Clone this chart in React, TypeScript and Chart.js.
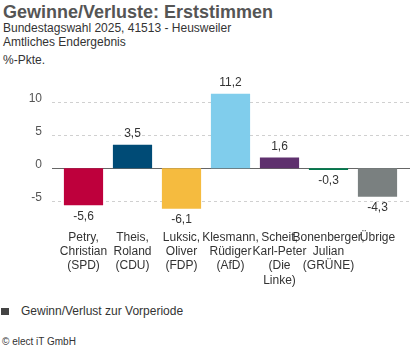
import React, { useEffect, useRef } from "react";
import { Chart, registerables } from "chart.js";

Chart.register(...registerables);

const CATEGORIES: string[][] = [
  ["Petry,", "Christian", "(SPD)"],
  ["Theis,", "Roland", "(CDU)"],
  ["Luksic,", "Oliver", "(FDP)"],
  ["Klesmann,", "Rüdiger", "(AfD)"],
  ["Scheit,", "Karl-Peter", "(Die", "Linke)"],
  ["Bonenberger,", "Julian", "(GRÜNE)"],
  ["Übrige"],
];
const VALUES: number[] = [-5.6, 3.5, -6.1, 11.2, 1.6, -0.3, -4.3];
const COLORS: string[] = ["#be003c", "#004b76", "#f5bb3f", "#80cdec", "#5f316e", "#007a4d", "#7a8080"];
const Y_TICKS: number[] = [-5, 0, 5, 10];
const Y_MIN = -7.5;
const Y_MAX = 12.5;

const FONT = "Arial, 'Liberation Sans', sans-serif";

const fmt = (v: number) => v.toFixed(1).replace(".", ",");

const gridPlugin = {
  id: "customGrid",
  beforeDatasetsDraw(chart: any) {
    const { ctx } = chart;
    const y = chart.scales.y;
    const left = 52;
    const right = chart.width;
    ctx.save();
    Y_TICKS.forEach((v) => {
      const py = Math.round(y.getPixelForValue(v)) + 0.5;
      ctx.beginPath();
      if (v === 0) {
        ctx.setLineDash([]);
        ctx.strokeStyle = "#666666";
        ctx.lineWidth = 1;
      } else {
        ctx.setLineDash([3, 3]);
        ctx.strokeStyle = "#d0d0d0";
        ctx.lineWidth = 1;
      }
      ctx.moveTo(left, py);
      ctx.lineTo(right, py);
      ctx.stroke();
      ctx.setLineDash([]);
      ctx.font = `12px ${FONT}`;
      ctx.fillStyle = "#555555";
      ctx.textAlign = "right";
      ctx.textBaseline = "middle";
      ctx.fillText(String(v), 42, py - 3.5);
    });
    ctx.restore();
  },
};

const valueLabelPlugin = {
  id: "valueLabels",
  afterDatasetsDraw(chart: any) {
    const { ctx } = chart;
    const meta = chart.getDatasetMeta(0);
    ctx.save();
    ctx.font = `12px ${FONT}`;
    ctx.fillStyle = "#333333";
    ctx.textAlign = "center";
    ctx.textBaseline = "middle";
    meta.data.forEach((bar: any, i: number) => {
      const v = VALUES[i];
      const yPos = v >= 0 ? bar.y - 11 : bar.y + 11;
      ctx.fillText(fmt(v), bar.x, yPos);
    });
    ctx.restore();
  },
};

export default function App() {
  const ref = useRef<HTMLCanvasElement | null>(null);

  useEffect(() => {
    if (!ref.current) return;
    const chart = new Chart(ref.current, {
      type: "bar",
      data: {
        labels: CATEGORIES,
        datasets: [
          {
            label: "Gewinn/Verlust zur Vorperiode",
            data: VALUES,
            backgroundColor: COLORS,
            borderWidth: 0,
            barPercentage: 0.8,
            categoryPercentage: 1,
          },
        ],
      },
      options: {
        animation: false,
        responsive: false,
        maintainAspectRatio: false,
        layout: { padding: { top: 15, right: 8, bottom: 0, left: 0 } },
        plugins: {
          legend: { display: false },
          tooltip: { enabled: false },
          title: { display: false },
        },
        scales: {
          x: {
            grid: { display: false, drawTicks: false },
            border: { display: false },
            ticks: {
              color: "#333333",
              font: { family: FONT, size: 12 },
              maxRotation: 0,
              minRotation: 0,
              autoSkip: false,
              padding: 12,
            },
            afterFit: (s: any) => {
              s.height = 77;
            },
          },
          y: {
            min: Y_MIN,
            max: Y_MAX,
            grid: { display: false, drawTicks: false },
            border: { display: false },
            afterBuildTicks: (s: any) => {
              s.ticks = Y_TICKS.map((v) => ({ value: v }));
            },
            ticks: { display: false },
            afterFit: (s: any) => {
              s.width = 59;
            },
          },
        },
      },
      plugins: [gridPlugin, valueLabelPlugin],
    });
    return () => chart.destroy();
  }, []);

  return (
    <div
      style={{
        position: "fixed",
        left: 0,
        top: 0,
        width: 410,
        height: 352,
        background: "#ffffff",
        fontFamily: FONT,
        overflow: "hidden",
      }}
    >
      <div style={{ position: "absolute", left: 3, top: 1, fontSize: 18, fontWeight: "bold", color: "#555555", lineHeight: "22px", whiteSpace: "nowrap" }}>
        Gewinne/Verluste: Erststimmen
      </div>
      <div style={{ position: "absolute", left: 3, top: 21, fontSize: 12, color: "#333333", lineHeight: "14px", whiteSpace: "nowrap" }}>
        Bundestagswahl 2025, 41513 - Heusweiler
      </div>
      <div style={{ position: "absolute", left: 3, top: 35, fontSize: 12, color: "#333333", lineHeight: "14px", whiteSpace: "nowrap" }}>
        Amtliches Endergebnis
      </div>
      <div style={{ position: "absolute", left: 3, top: 53, fontSize: 12, color: "#333333", lineHeight: "14px", whiteSpace: "nowrap" }}>
        %-Pkte.
      </div>
      <canvas ref={ref} width={410} height={225} style={{ position: "absolute", left: 0, top: 70, width: 410, height: 225 }} />
      <div style={{ position: "absolute", left: 1, top: 308, width: 8, height: 7, background: "#444444" }} />
      <div style={{ position: "absolute", left: 21, top: 304, fontSize: 12, color: "#333333", lineHeight: "15px", whiteSpace: "nowrap" }}>
        Gewinn/Verlust zur Vorperiode
      </div>
      <div style={{ position: "absolute", left: 2, top: 336, fontSize: 10, color: "#333333", lineHeight: "12px", whiteSpace: "nowrap" }}>
        © elect iT GmbH
      </div>
    </div>
  );
}
